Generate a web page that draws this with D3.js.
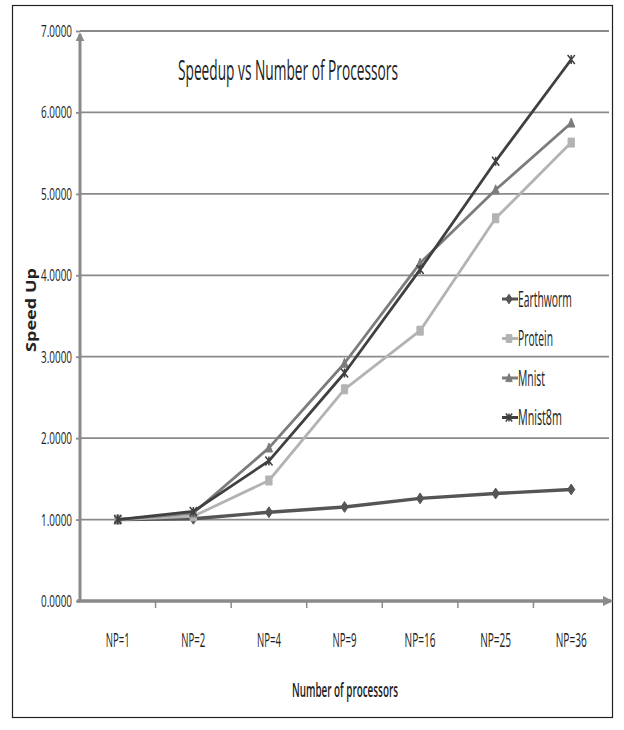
<!DOCTYPE html>
<html>
<head>
<meta charset="utf-8">
<script src="https://cdn.jsdelivr.net/npm/d3@7/dist/d3.min.js"></script>
<style>
  html, body { margin: 0; padding: 0; background: #fff; }
  svg { display: block; }
  text { font-family: "Open Sans", "DejaVu Sans Condensed", sans-serif; fill: #222; }
</style>
</head>
<body>
<svg id="chart" width="624" height="730"></svg>
<script>
// Speedup measured for each data set at increasing processor counts
const categories = ["NP=1", "NP=2", "NP=4", "NP=9", "NP=16", "NP=25", "NP=36"];
const earthworm = [1.00, 1.01, 1.09, 1.155, 1.26, 1.32, 1.37];
const protein   = [1.00, 1.04, 1.48, 2.60, 3.32, 4.70, 5.63];
const mnist     = [1.00, 1.08, 1.88, 2.92, 4.15, 5.05, 5.87];
const mnist8m   = [1.00, 1.10, 1.72, 2.80, 4.07, 5.40, 6.65];
const seriesNames = ["Earthworm", "Protein", "Mnist", "Mnist8m"];
const yTicks = [0, 1, 2, 3, 4, 5, 6, 7];

const series = [
  { name: seriesNames[0], values: earthworm, color: "#555555", marker: "diamond" },
  { name: seriesNames[1], values: protein,   color: "#b3b3b3", marker: "square" },
  { name: seriesNames[2], values: mnist,     color: "#7c7c7c", marker: "triangle" },
  { name: seriesNames[3], values: mnist8m,   color: "#404040", marker: "cross" }
];

const svg = d3.select("#chart");
const plotLeft = 80, plotRight = 609, plotTop = 31, plotBottom = 601;

// Squeeze a text horizontally to a given width around its anchor x (narrow face look)
function condense(textSel, width) {
  textSel.each(function () {
    const node = this;
    const w = node.getComputedTextLength();
    const k = w > 0 ? width / w : 1;
    const ax = +(node.getAttribute("x") || 0);
    node.setAttribute("transform",
      (node.getAttribute("transform") || "") + ` translate(${ax},0) scale(${k},1) translate(${-ax},0)`);
  });
}

// Outer frame
svg.append("rect").attr("x", 12.5).attr("y", 5.5).attr("width", 600).attr("height", 712)
  .attr("fill", "none").attr("stroke", "#222").attr("stroke-width", 1.2);

const x = d3.scaleBand().domain(categories).range([plotLeft, plotRight]);
const y = d3.scaleLinear().domain([0, 7]).range([plotBottom, plotTop]);

// Horizontal gridlines
svg.append("g").selectAll("line").data(yTicks.filter(t => t > 0)).join("line")
  .attr("x1", plotLeft).attr("x2", plotRight)
  .attr("y1", d => y(d)).attr("y2", d => y(d))
  .attr("stroke", "#8a8a8a").attr("stroke-width", 1.8);

// Y axis with tick labels
const yAxis = d3.axisLeft(y).tickValues(yTicks).tickFormat(d3.format(".4f")).tickSize(4).tickPadding(4);
const gy = svg.append("g").attr("transform", `translate(${plotLeft},0)`).call(yAxis);
gy.select(".domain").remove();
gy.selectAll(".tick line").attr("stroke", "#8a8a8a").attr("stroke-width", 1.8);
gy.selectAll(".tick text").attr("font-size", 17).attr("fill", "#2a2a2a").call(condense, 31);

// X axis with tick labels
const xAxis = d3.axisBottom(x).tickSize(0).tickPadding(32);
const gx = svg.append("g").attr("transform", `translate(0,${plotBottom})`).call(xAxis);
gx.select(".domain").remove();
gx.selectAll(".tick text").attr("font-size", 20).attr("fill", "#2a2a2a")
  .each(function (d) { d3.select(this).call(condense, d.length > 4 ? 31 : 24); });
// Category boundary ticks
svg.append("g").selectAll("line").data(categories.slice(1)).join("line")
  .attr("x1", d => x(d)).attr("x2", d => x(d))
  .attr("y1", plotBottom).attr("y2", plotBottom + 7)
  .attr("stroke", "#8a8a8a").attr("stroke-width", 1.5);

// Axis lines with arrowheads
const defs = svg.append("defs");
defs.append("marker").attr("id", "arrow").attr("viewBox", "0 0 10 10")
  .attr("refX", 8).attr("refY", 5).attr("markerWidth", 3).attr("markerHeight", 3)
  .attr("orient", "auto")
  .append("path").attr("d", "M0,0 L10,5 L0,10 z").attr("fill", "#8a8a8a");
svg.append("line").attr("x1", plotLeft).attr("x2", plotLeft).attr("y1", plotBottom + 1).attr("y2", plotTop + 3)
  .attr("stroke", "#8a8a8a").attr("stroke-width", 3).attr("marker-end", "url(#arrow)");
svg.append("line").attr("x1", plotLeft - 3).attr("x2", plotRight + 2).attr("y1", plotBottom).attr("y2", plotBottom)
  .attr("stroke", "#8a8a8a").attr("stroke-width", 3.5).attr("marker-end", "url(#arrow)");

// Marker shapes
function markerPath(type, s) {
  switch (type) {
    case "diamond": return `M0,${-s * 1.2} L${s * 0.8},0 L0,${s * 1.2} L${-s * 0.8},0 Z`;
    case "square": return `M${-s * 0.7},${-s} h${s * 1.4} v${s * 2} h${-s * 1.4} Z`;
    case "triangle": return `M0,${-s * 1.1} L${s * 0.8},${s * 0.9} L${-s * 0.8},${s * 0.9} Z`;
    default: return `M${-s * 0.8},${-s} L${s * 0.8},${s} M${s * 0.8},${-s} L${-s * 0.8},${s} M0,${-s} L0,${s}`;
  }
}

const line = d3.line().x((d, i) => x(categories[i]) + x.bandwidth() / 2).y(d => y(d));

// Series lines and markers
series.forEach(s => {
  svg.append("path").datum(s.values).attr("d", line)
    .attr("fill", "none").attr("stroke", s.color).attr("stroke-width", s.name === "Earthworm" ? 3.4 : 2.8)
    .attr("stroke-linejoin", "round");
  svg.append("g").selectAll("path").data(s.values).join("path")
    .attr("transform", (d, i) => `translate(${x(categories[i]) + x.bandwidth() / 2},${y(d)})`)
    .attr("d", markerPath(s.marker, 4.5))
    .attr("fill", s.marker === "cross" ? "none" : s.color)
    .attr("stroke", s.color).attr("stroke-width", s.marker === "cross" ? 1.5 : 1);
});

// Legend
const legend = svg.append("g");
series.forEach((s, i) => {
  const ly = 299 + i * 39.5;
  legend.append("line").attr("x1", 502).attr("x2", 518).attr("y1", ly).attr("y2", ly)
    .attr("stroke", s.color).attr("stroke-width", 3);
  legend.append("path").attr("transform", `translate(509,${ly})`)
    .attr("d", markerPath(s.marker, 4))
    .attr("fill", s.marker === "cross" ? "none" : s.color)
    .attr("stroke", s.color).attr("stroke-width", s.marker === "cross" ? 1.5 : 1);
  legend.append("text").attr("x", 518).attr("y", ly + 8).attr("font-size", 21).attr("fill", "#2a2a2a")
    .text(s.name).call(condense, [54, 35, 27, 44][i]);
});

// Titles
svg.append("text").attr("x", 178).attr("y", 80).attr("font-size", 27).attr("fill", "#1a1a1a")
  .text("Speedup vs Number of Processors").call(condense, 220);

svg.append("text").attr("transform", "translate(36,310) rotate(-90)")
  .attr("text-anchor", "middle").attr("font-size", 15).attr("font-weight", "bold")
  .attr("font-family", "DejaVu Sans, sans-serif")
  .text("Speed Up").call(condense, 84);

svg.append("text").attr("x", 345).attr("y", 697).attr("text-anchor", "middle")
  .attr("font-size", 20).attr("font-weight", 600).attr("fill", "#1a1a1a")
  .text("Number of processors").call(condense, 106);
</script>
</body>
</html>
